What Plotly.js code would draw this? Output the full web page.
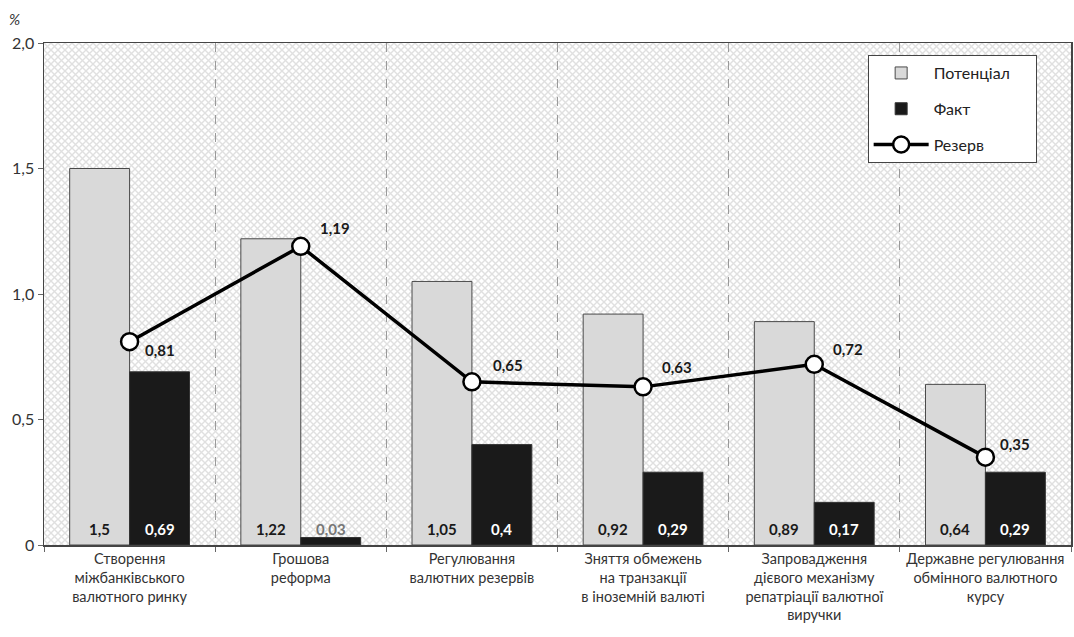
<!DOCTYPE html>
<html>
<head>
<meta charset="utf-8">
<script src="https://cdn.plot.ly/plotly-3.0.1.min.js"></script>
<style>html,body{margin:0;padding:0;background:#fff}#chart{width:1074px;height:637px}</style>
</head>
<body>
<div id="chart"></div>
<script>
const categories = [
  "Створення<br>міжбанківського<br>валютного ринку",
  "Грошова<br>реформа",
  "Регулювання<br>валютних резервів",
  "Зняття обмежень<br>на транзакції<br>в іноземній валюті",
  "Запровадження<br>дієвого механізму<br>репатріації валютної<br>виручки",
  "Державне регулювання<br>обмінного валютного<br>курсу"
];
const seriesNames = ["Потенціал", "Факт", "Резерв"];
const potential = [1.5, 1.22, 1.05, 0.92, 0.89, 0.64];
const fact = [0.69, 0.03, 0.4, 0.29, 0.17, 0.29];
const reserve = [0.81, 1.19, 0.65, 0.63, 0.72, 0.35];
const yTickVals = [0, 0.5, 1, 1.5, 2];
const yTickText = ["0", "0,5", "1,0", "1,5", "2,0"];

// label offsets for the reserve line (style only)
const reserveLabelShift = [[30, -8], [34, 18], [36, 17], [34, 20], [34, 15], [30, 13]];

const fmt = v => String(v).replace('.', ',');
const FONT = "Lato, 'Open Sans', sans-serif";
const pad = s => s + '&nbsp;&nbsp;&nbsp;&nbsp;&nbsp;';

const svg = "<svg xmlns='http://www.w3.org/2000/svg' width='1027' height='502' viewBox='0 0 1027 502' preserveAspectRatio='none'>" +
  "<defs><pattern id='p' width='7' height='7' patternUnits='userSpaceOnUse'>" +
  "<rect width='7' height='7' fill='#ffffff'/>" +
  "<path d='M0 0L7 7M7 0L0 7' stroke='#e0e0e0' stroke-width='1.4'/></pattern></defs>" +
  "<rect width='1027' height='502' fill='url(#p)'/></svg>";
const bgUri = "data:image/svg+xml;charset=utf-8," + encodeURIComponent(svg);

const traces = [
  {
    type: 'bar', name: pad(seriesNames[0]), x: categories, y: potential,
    marker: {color: '#d9d9d9', line: {color: '#4a4a4a', width: 1}},
    legendgroup: 'a', hoverinfo: 'y'
  },
  {
    type: 'bar', name: seriesNames[1], x: categories, y: fact,
    marker: {color: '#1a1a1a', line: {color: '#333', width: 1}},
    legendgroup: 'b', hoverinfo: 'y'
  },
  {
    type: 'scatter', mode: 'lines+markers', name: seriesNames[2], x: categories, y: reserve,
    line: {color: '#000', width: 3.5},
    marker: {color: '#fff', size: 17, line: {color: '#000', width: 2.5}},
    legendgroup: 'c', hoverinfo: 'y'
  }
];

const annotations = [];
potential.forEach((v, i) => annotations.push({
  x: categories[i], y: 0, xref: 'x', yref: 'y', yanchor: 'bottom', xshift: -30, yshift: 5,
  text: '<b>' + fmt(v) + '</b>', showarrow: false, font: {size: 15, color: '#1a1a1a', family: FONT}
}));
fact.forEach((v, i) => annotations.push({
  x: categories[i], y: 0, xref: 'x', yref: 'y', yanchor: 'bottom', xshift: 30, yshift: 5,
  text: '<b>' + fmt(v) + '</b>', showarrow: false,
  font: {size: 15, color: v < 0.1 ? '#777' : '#ffffff', family: FONT}
}));
reserve.forEach((v, i) => annotations.push({
  x: categories[i], y: v, xref: 'x', yref: 'y',
  xshift: reserveLabelShift[i][0], yshift: reserveLabelShift[i][1],
  text: '<b>' + fmt(v) + '</b>', showarrow: false, font: {size: 15, color: '#1a1a1a', family: FONT}
}));
annotations.push({
  xref: 'paper', yref: 'paper', x: -0.029, y: 1.048, xanchor: 'center', yanchor: 'middle',
  text: '<i>%</i>', showarrow: false, font: {size: 15, color: '#333', family: FONT}
});

const layout = {
  width: 1074, height: 637,
  margin: {l: 44, r: 3, t: 43, b: 92},
  paper_bgcolor: '#ffffff',
  plot_bgcolor: 'rgba(0,0,0,0)',
  font: {family: FONT, color: '#333'},
  barmode: 'group', bargap: 0.3, bargroupgap: 0,
  showlegend: true,
  legend: {
    x: 0.802, y: 0.976, xanchor: 'left', yanchor: 'top',
    bgcolor: '#ffffff', bordercolor: '#444', borderwidth: 1,
    font: {size: 16, color: '#222', family: FONT},
    traceorder: 'grouped', tracegroupgap: 12, itemwidth: 55
  },
  xaxis: {
    type: 'category', tickson: 'boundaries', tickangle: 0,
    showgrid: true, gridcolor: '#9a9a9a', griddash: 'dash', gridwidth: 1,
    showline: true, linecolor: '#444', linewidth: 1.5, mirror: true,
    ticks: 'outside', ticklen: 5, tickcolor: '#666',
    tickfont: {size: 14.5, color: '#333', family: FONT},
    range: [-0.5, 5.5], fixedrange: true
  },
  yaxis: {
    range: [0, 2], tickvals: yTickVals, ticktext: yTickText,
    showgrid: false, zeroline: false,
    showline: true, linecolor: '#444', linewidth: 1.5, mirror: true,
    ticks: 'outside', ticklen: 5, tickcolor: '#666',
    tickfont: {size: 16, color: '#333', family: FONT}, fixedrange: true
  },
  images: [{
    source: bgUri, xref: 'paper', yref: 'paper', x: 0, y: 1, sizex: 1, sizey: 1,
    xanchor: 'left', yanchor: 'top', sizing: 'stretch', layer: 'below'
  }],
  annotations: annotations
};

Plotly.newPlot('chart', traces, layout, {displayModeBar: false, staticPlot: true});
</script>
</body>
</html>
